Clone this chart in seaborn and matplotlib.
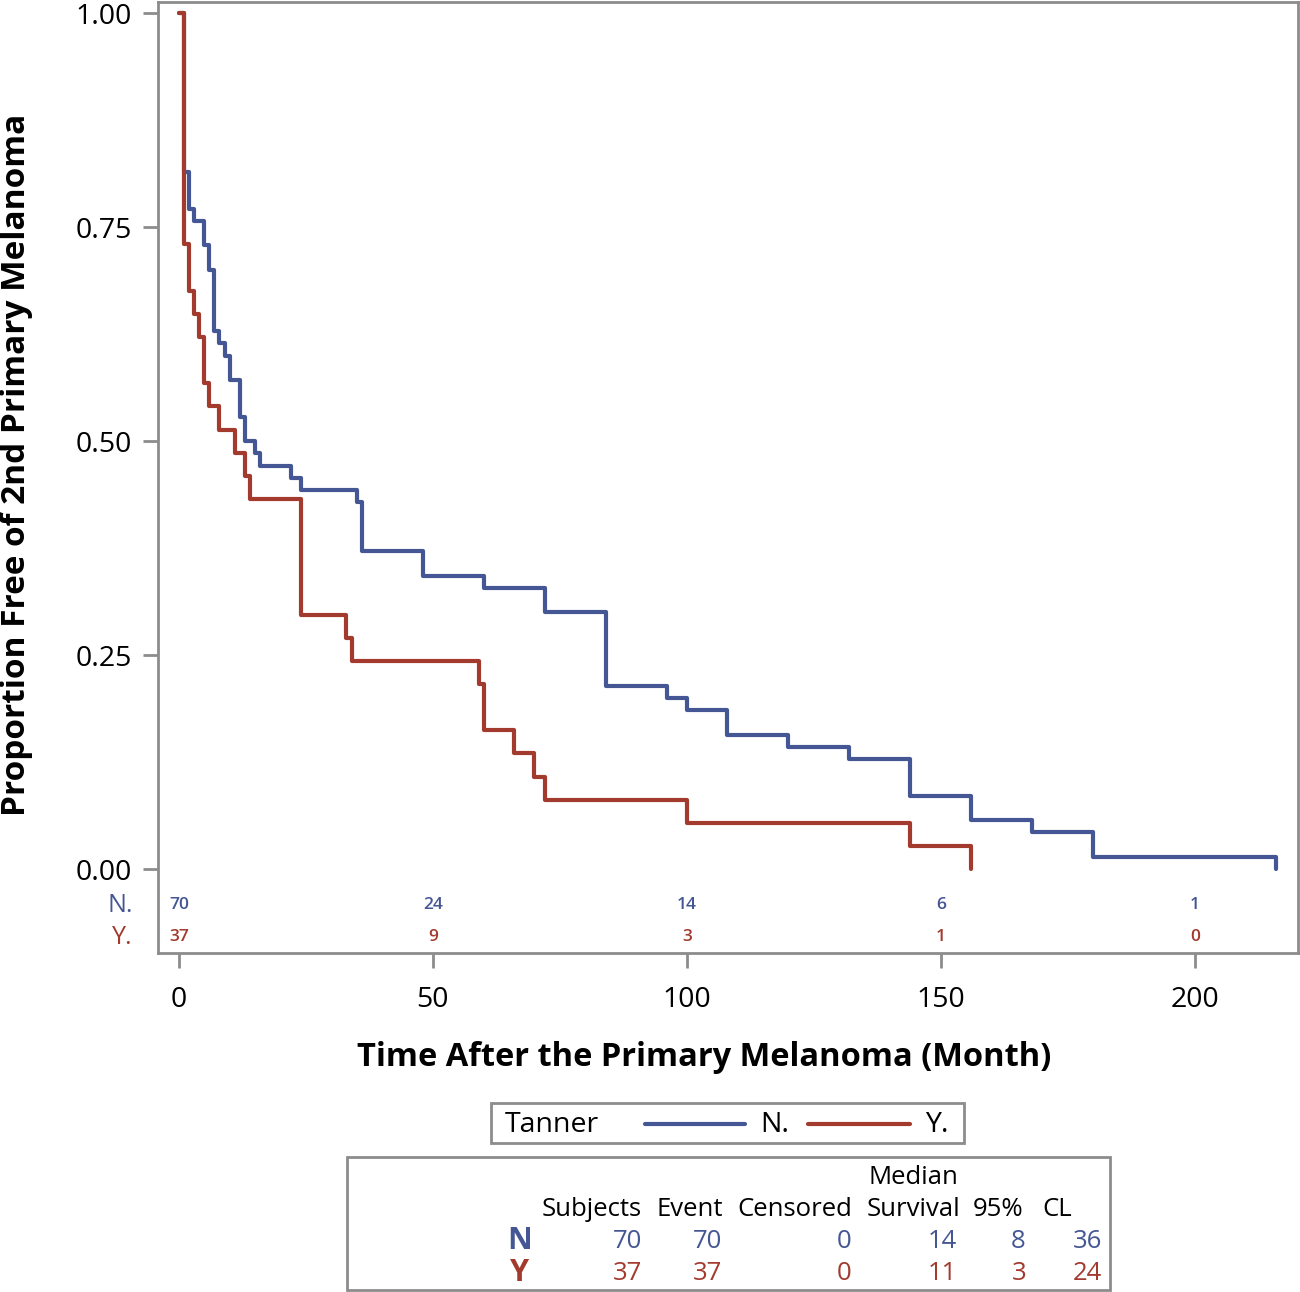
import numpy as np
import pandas as pd
import matplotlib
matplotlib.use("Agg")
import matplotlib.pyplot as plt
from matplotlib.lines import Line2D
from matplotlib.patches import Rectangle
import seaborn as sns

# Data (event times in months and number of events)
groups = ["N.", "Y."]
n_subjects = [70, 37]

times_n = [1, 2, 3, 5, 6, 7, 8, 9, 10, 12, 13, 15, 16, 22, 24, 35, 36, 48, 60,
           72, 84, 96, 100, 108, 120, 132, 144, 156, 168, 180, 216]
events_n = [13, 3, 1, 2, 2, 5, 1, 1, 2, 3, 2, 1, 1, 1, 1, 1, 4, 2, 1,
            2, 6, 1, 1, 2, 1, 1, 3, 2, 1, 2, 1]

times_y = [1, 2, 3, 4, 5, 6, 8, 11, 13, 14, 24, 33, 34, 59, 60, 66, 70, 72,
           100, 144, 156]
events_y = [10, 2, 1, 1, 2, 1, 1, 1, 1, 1, 5, 1, 1, 1, 2, 1, 1, 1, 1, 1, 1]

risk_times = [0, 50, 100, 150, 200]
risk_n = [70, 24, 14, 6, 1]
risk_y = [37, 9, 3, 1, 0]

table_cols = ["Subjects", "Event", "Censored", "Survival", "95%", "CL"]
table_n = [70, 70, 0, 14, 8, 36]
table_y = [37, 37, 0, 11, 3, 24]

blue = "#445694"
red = "#A23A2E"
gray = "#8C8C8C"


def km_steps(n, times, events):
    t_out = [0]
    s_out = [1.0]
    left = n
    for t, d in zip(times, events):
        left -= d
        t_out.append(t)
        s_out.append(left / n)
    return t_out, s_out


rows = []
for g, n, tt, ee in [("N.", n_subjects[0], times_n, events_n),
                     ("Y.", n_subjects[1], times_y, events_y)]:
    t, s = km_steps(n, tt, ee)
    for a, b in zip(t, s):
        rows.append({"time": a, "surv": b, "Tanner": g})
df = pd.DataFrame(rows)

sns.set_style("white")
plt.rcParams["font.family"] = ["Open Sans", "DejaVu Sans"]
plt.rcParams["text.color"] = "black"
plt.rcParams["xtick.color"] = "black"
plt.rcParams["ytick.color"] = "black"

fig = plt.figure(figsize=(13, 12.92), dpi=100)
W, H = 1300, 1292
ax = fig.add_axes([158 / W, 1 - 953 / H, (1298 - 158) / W, (953 - 2) / H])

sns.lineplot(data=df, x="time", y="surv", hue="Tanner", palette=[blue, red],
             drawstyle="steps-post", estimator=None, linewidth=3, legend=False,
             ax=ax)

ax.set_xlim(-4.1, 220.3)
ax.set_ylim(-0.098, 1.013)
ax.set_xticks([0, 50, 100, 150, 200])
ax.set_yticks([0, 0.25, 0.5, 0.75, 1.0])
ax.set_yticklabels(["0.00", "0.25", "0.50", "0.75", "1.00"])
ax.set_xlabel("")
ax.set_ylabel("")
for sp in ax.spines.values():
    sp.set_visible(True)
    sp.set_color(gray)
    sp.set_linewidth(2)
ax.tick_params(axis="both", direction="out", length=11, width=2, color=gray,
               labelsize=20.5, left=True, bottom=True, labelcolor="black")
ax.tick_params(axis="x", pad=13)
ax.tick_params(axis="y", pad=8)

# -------------------------------
# Number at risk rows
# -------------------------------
trans = matplotlib.transforms.blended_transform_factory(ax.transData, ax.transAxes)
ypos_n = (953 - 905) / 951
ypos_y = (953 - 937) / 951
for t, a, b in zip(risk_times, risk_n, risk_y):
    ax.text(t, ypos_n, str(a), transform=trans, ha="center", va="center",
            color=blue, fontsize=12.5, fontweight="semibold")
    ax.text(t, ypos_y, str(b), transform=trans, ha="center", va="center",
            color=red, fontsize=12.5, fontweight="semibold")
fig.text(133 / W, 1 - 906 / H, "N.", ha="right", va="center", color=blue, fontsize=18)
fig.text(133 / W, 1 - 938 / H, "Y.", ha="right", va="center", color=red, fontsize=18)

# axis titles
fig.text(704 / W, 1 - 1057 / H, "Time After the Primary Melanoma (Month)",
         ha="center", va="center", fontsize=23.5, fontweight="bold")
fig.text(17 / W, 1 - 465 / H, "Proportion Free of 2nd Primary Melanoma",
         ha="center", va="center", rotation=90, fontsize=24, fontweight="bold")

# -------------------------------
# Legend box
# -------------------------------
fig.patches.append(Rectangle((491 / W, 1 - 1143 / H), (964 - 491) / W, 40 / H,
                             transform=fig.transFigure, fill=False,
                             edgecolor=gray, linewidth=2))
fig.text(505 / W, 1 - 1125 / H, "Tanner", ha="left", va="center", fontsize=20.5)
fig.lines.append(Line2D([645 / W, 745 / W], [1 - 1124 / H, 1 - 1124 / H],
                        transform=fig.transFigure, color=blue, linewidth=3))
fig.text(760 / W, 1 - 1125 / H, "N.", ha="left", va="center", fontsize=20.5)
fig.lines.append(Line2D([808 / W, 910 / W], [1 - 1124 / H, 1 - 1124 / H],
                        transform=fig.transFigure, color=red, linewidth=3))
fig.text(925 / W, 1 - 1125 / H, "Y.", ha="left", va="center", fontsize=20.5)

# -------------------------------
# Summary table
# -------------------------------
fig.patches.append(Rectangle((347 / W, 1 - 1290 / H), (1110 - 347) / W, 133 / H,
                             transform=fig.transFigure, fill=False,
                             edgecolor=gray, linewidth=2))
fig.text(913 / W, 1 - 1177 / H, "Median", ha="center", va="center", fontsize=18.5)
head_x = [592, 690, 795, 913, 998, 1057]
for x, c in zip(head_x, table_cols):
    fig.text(x / W, 1 - 1209 / H, c, ha="center", va="center", fontsize=18.5)
val_x = [642, 722, 852, 957, 1026, 1102]
for x, a, b in zip(val_x, table_n, table_y):
    fig.text(x / W, 1 - 1242 / H, str(a), ha="right", va="center", fontsize=18.5,
             color=blue)
    fig.text(x / W, 1 - 1274 / H, str(b), ha="right", va="center", fontsize=18.5,
             color=red)
fig.text(520 / W, 1 - 1241 / H, "N", ha="center", va="center", fontsize=22,
         color=blue, fontweight="bold")
fig.text(520 / W, 1 - 1273 / H, "Y", ha="center", va="center", fontsize=22,
         color=red, fontweight="bold")

fig.savefig("out.png", dpi=100)
